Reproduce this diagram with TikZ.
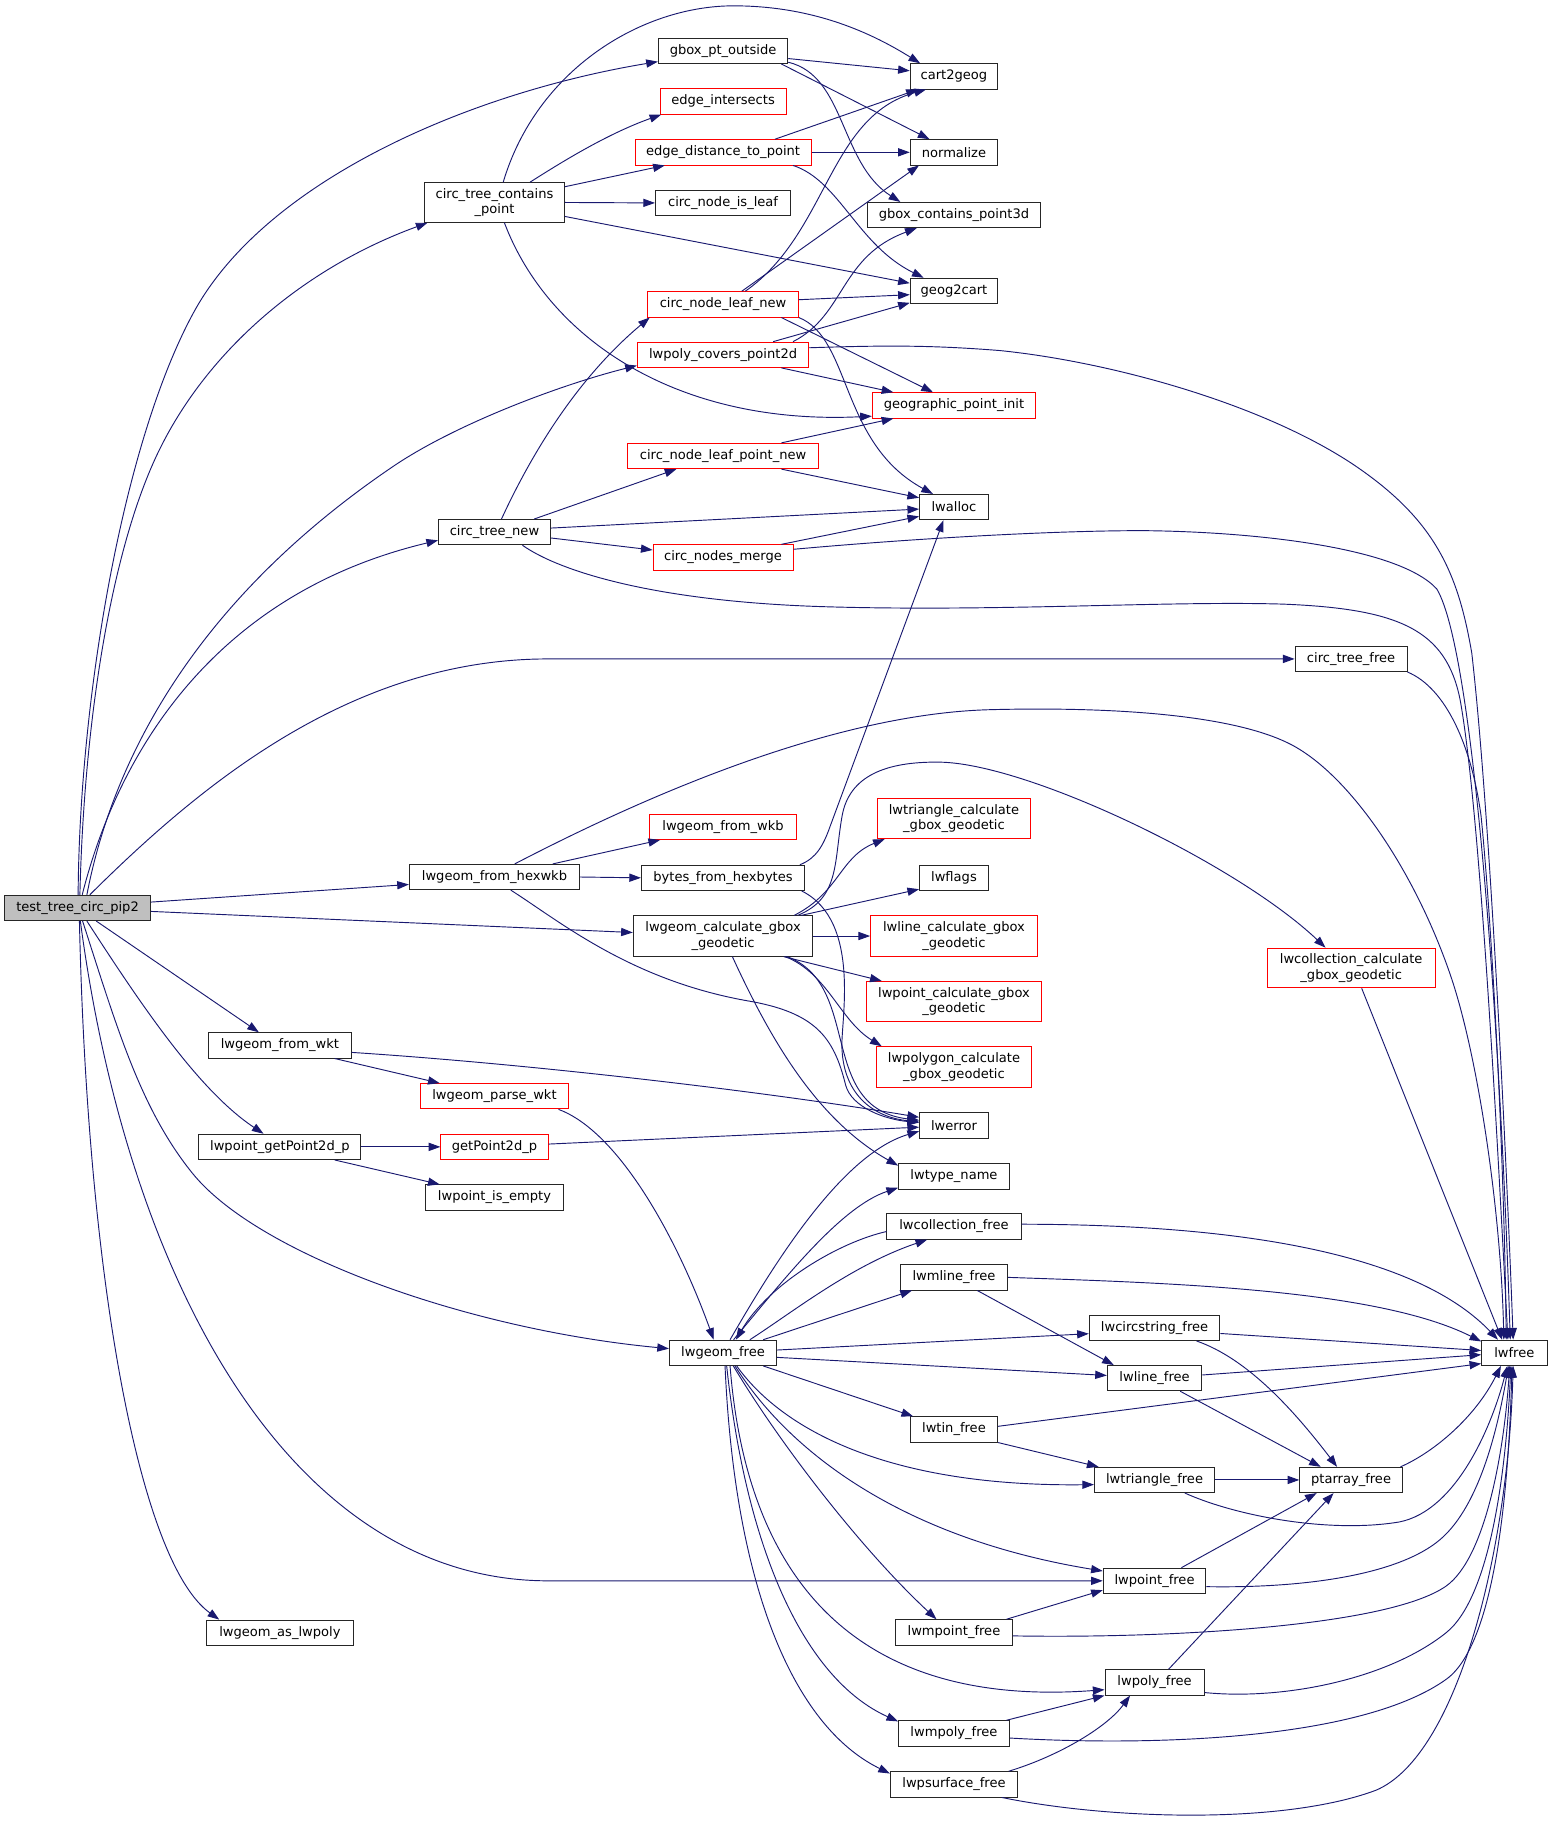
\documentclass[tikz,border=0pt]{standalone}
\usepackage{fontspec}
\setmainfont{DejaVu Sans}
\usetikzlibrary{arrows.meta}
\definecolor{edgec}{HTML}{191970}
\definecolor{gfill}{HTML}{BFBFBF}
\newcommand\dgfnt{\fontsize{11.2pt}{13.5pt}\selectfont}
\tikzset{
  box/.style={draw=black!85, line width=0.8pt, fill=white, inner sep=0pt,
    minimum height=21.7pt, font=\dgfnt, align=center, text=black},
  redbox/.style={box, draw=red},
  e/.style={draw=edgec, line width=0.8pt, -{Triangle[length=10pt,width=7pt]}},
}
\begin{document}
\begin{tikzpicture}[x=1pt,y=-1pt]
\fill[white] (0,0) rectangle (1330,1566.6);
\useasboundingbox (0,0) rectangle (1330,1566.6);

% ---------- nodes ----------
\node[box,fill=gfill,minimum width=125pt] (T) at (66.5,778.5) {test\_tree\_circ\_pip2};
\node[box,minimum width=120pt,minimum height=34pt] (CTCP) at (424,173.6) {circ\_tree\_contains\\\_point};
\node[box,minimum width=96pt] (CTN) at (424,456.3) {circ\_tree\_new};
\node[box,minimum width=146pt] (HEX) at (424,752) {lwgeom\_from\_hexwkb};
\node[box,minimum width=111pt] (GPO) at (620,43.6) {gbox\_pt\_outside};
\node[box,minimum width=75pt] (C2G) at (818,65.5) {cart2geog};
\node[redbox,minimum width=108pt] (EI) at (620,87) {edge\_intersects};
\node[redbox,minimum width=151pt] (EDP) at (620,130.6) {edge\_distance\_to\_point};
\node[box,minimum width=75pt] (NRM) at (818,130.6) {normalize};
\node[box,minimum width=116pt] (CNIL) at (620,174) {circ\_node\_is\_leaf};
\node[box,minimum width=148pt] (GCP) at (818,184.4) {gbox\_contains\_point3d};
\node[box,minimum width=75pt] (G2C) at (818,249.4) {geog2cart};
\node[redbox,minimum width=129pt] (CNLN) at (620,261) {circ\_node\_leaf\_new};
\node[redbox,minimum width=147pt] (LCP) at (620,304.2) {lwpoly\_covers\_point2d};
\node[redbox,minimum width=140pt] (GPI) at (818,347.6) {geographic\_point\_init};
\node[redbox,minimum width=164pt] (CNLPN) at (620,391) {circ\_node\_leaf\_point\_new};
\node[box,minimum width=59pt] (LWA) at (818,434.8) {lwalloc};
\node[redbox,minimum width=120pt] (CNM) at (620,478) {circ\_nodes\_merge};
\node[box,minimum width=96pt] (CTF) at (1158.5,565) {circ\_tree\_free};
\node[redbox,minimum width=126pt] (WKB) at (620,709) {lwgeom\_from\_wkb};
\node[box,minimum width=140pt] (BFH) at (620,752.7) {bytes\_from\_hexbytes};
\node[redbox,minimum width=132pt,minimum height=34.2pt] (TRI) at (818,702) {lwtriangle\_calculate\\\_gbox\_geodetic};
\node[box,minimum width=59pt] (FLG) at (818,752.7) {lwflags};
\node[box,minimum width=154pt,minimum height=34.6pt] (LCGG) at (620,802.6) {lwgeom\_calculate\_gbox\\\_geodetic};
\node[redbox,minimum width=143pt,minimum height=34.6pt] (LINC) at (818,802.6) {lwline\_calculate\_gbox\\\_geodetic};
\node[redbox,minimum width=144pt,minimum height=34pt] (COLC) at (1158.6,830) {lwcollection\_calculate\\\_gbox\_geodetic};
\node[redbox,minimum width=150pt,minimum height=34.6pt] (PTC) at (818,858.8) {lwpoint\_calculate\_gbox\\\_geodetic};
\node[box,minimum width=122.4pt] (WKT) at (240,896.4) {lwgeom\_from\_wkt};
\node[redbox,minimum width=133pt,minimum height=34.6pt] (POLC) at (818,914.8) {lwpolygon\_calculate\\\_gbox\_geodetic};
\node[redbox,minimum width=127pt] (PWKT) at (424,940) {lwgeom\_parse\_wkt};
\node[box,minimum width=59pt] (ERR) at (818,965) {lwerror};
\node[box,minimum width=139pt] (GP2) at (240,983.4) {lwpoint\_getPoint2d\_p};
\node[redbox,minimum width=92pt] (G2P) at (424,983.4) {getPoint2d\_p};
\node[box,minimum width=95pt] (TYN) at (818,1008.7) {lwtype\_name};
\node[box,minimum width=118pt] (PIE) at (424,1026.8) {lwpoint\_is\_empty};
\node[box,minimum width=115pt] (COLF) at (818,1051.7) {lwcollection\_free};
\node[box,minimum width=92pt] (MLF) at (818,1095.3) {lwmline\_free};
\node[box,minimum width=112pt] (CSF) at (990,1138.6) {lwcircstring\_free};
\node[box,minimum width=92pt] (LGF) at (620,1160) {lwgeom\_free};
\node[box,minimum width=56pt] (FREE) at (1298.5,1160) {lwfree};
\node[box,minimum width=81pt] (LF) at (990,1181.7) {lwline\_free};
\node[box,minimum width=75pt] (TINF) at (818,1225.7) {lwtin\_free};
\node[box,minimum width=103pt] (TRF) at (990,1269) {lwtriangle\_free};
\node[box,minimum width=88pt] (PAF) at (1158.5,1269) {ptarray\_free};
\node[box,minimum width=88pt] (PTF) at (990,1355.5) {lwpoint\_free};
\node[box,minimum width=126pt] (ASP) at (240,1400) {lwgeom\_as\_lwpoly};
\node[box,minimum width=100pt] (MPTF) at (818,1399.7) {lwmpoint\_free};
\node[box,minimum width=85pt] (PLF) at (990,1442.6) {lwpoly\_free};
\node[box,minimum width=95pt] (MPLF) at (818,1486.3) {lwmpoly\_free};
\node[box,minimum width=109pt] (PSF) at (818,1530) {lwpsurface\_free};

% ---------- edges: test_tree_circ_pip2 ----------
\draw[e] ([xshift=0.5pt]T.north) .. controls (68,600) and (105,380) .. (166,268) .. controls (227,156) and (400,80) .. ([yshift=2pt]GPO.south west);
\draw[e] ([xshift=2pt]T.north) .. controls (72,620) and (95,470) .. (137,385) .. controls (179,300) and (260,230) .. ([xshift=3pt]CTCP.south west);
\draw[e] ([xshift=8pt]T.north) .. controls (95,660) and (160,520) .. (337,400) .. controls (390,364) and (480,330) .. ([yshift=2pt]LCP.south west);
\draw[e] ([xshift=4pt]T.north) .. controls (100,650) and (180,510) .. ([yshift=-7pt]CTN.west);
\draw[e] ([xshift=10.5pt]T.north) .. controls (170,675) and (300,565) .. (470,565) -- (CTF.west);
\draw[e] ([yshift=5pt]T.east) -- ([yshift=-6.4pt]HEX.west);
\draw[e] ([yshift=-3pt]T.east) -- ([yshift=3pt]LCGG.west);
\draw[e] ([xshift=16pt]T.south) -- ([xshift=-18pt]WKT.north);
\draw[e] ([xshift=8pt]T.south) .. controls (120,860) and (170,935) .. ([xshift=-14pt]GP2.north);
\draw[e] ([xshift=4.3pt]T.south) .. controls (100,880) and (120,950) .. (164.6,1005.5) .. controls (220,1075) and (400,1140) .. ([yshift=3.6pt]LGF.west);
\draw[e] ([xshift=2.4pt]T.south) .. controls (110,1100) and (250,1355.5) .. (470,1355.5) -- (PTF.west);
\draw[e] ([xshift=1.6pt]T.south) .. controls (75,1100) and (120,1340) .. ([xshift=-52pt]ASP.north);

% ---------- circ_tree_contains_point ----------
\draw[e] ([xshift=7.5pt]CTCP.north) .. controls (460,60) and (550,5) .. (629,5) .. controls (700,5) and (750,30) .. ([xshift=-29pt]C2G.north);
\draw[e] ([xshift=30.5pt]CTCP.north) .. controls (480,140) and (520,115) .. ([xshift=-53pt]EI.south);
\draw[e] ([yshift=13.5pt]CTCP.east) -- ([xshift=-50pt]EDP.south);
\draw[e] (CTCP.east) -- (CNIL.west);
\draw[e] ([yshift=-12pt]CTCP.east) -- ([yshift=6.6pt]G2C.west);
\draw[e] ([xshift=8.5pt]CTCP.south) .. controls (470,290) and (580,365) .. ([yshift=2pt]GPI.south west);

% ---------- gbox_pt_outside ----------
\draw[e] ([yshift=-6.6pt]GPO.east) -- ([yshift=4.8pt]C2G.west);
\draw[e] ([xshift=50pt]GPO.south) -- ([xshift=-21pt]NRM.north);
\draw[e] ([yshift=1.5pt]GPO.south east) .. controls (725,65) and (720,140) .. ([xshift=-46pt]GCP.north);

% ---------- edge_distance_to_point ----------
\draw[e] ([xshift=44.5pt]EDP.north) -- ([xshift=-31pt]C2G.south);
\draw[e] (EDP.east) -- (NRM.west);
\draw[e] ([xshift=60pt]EDP.south) .. controls (720,155) and (735,210) .. ([xshift=-26pt]G2C.north);

% ---------- circ_node_leaf_new ----------
\draw[e] ([xshift=19pt]CNLN.north) .. controls (710,200) and (710,100) .. ([xshift=-24pt]C2G.south);
\draw[e] ([xshift=16pt]CNLN.north) -- ([xshift=-30pt]NRM.south);
\draw[e] ([yshift=4pt]CNLN.east) -- ([yshift=-3.3pt]G2C.west);
\draw[e] ([xshift=50pt]CNLN.south) -- ([xshift=-18pt]GPI.north);
\draw[e] (CNLN.south east) .. controls (730,290) and (720,380) .. ([xshift=-18pt]LWA.north);

% ---------- lwpoly_covers_point2d ----------
\draw[e] ([xshift=60pt]LCP.north) .. controls (725,270) and (720,220) .. ([xshift=-32pt]GCP.south);
\draw[e] ([xshift=43pt]LCP.north) -- ([yshift=1pt]G2C.south west);
\draw[e] ([xshift=50pt]LCP.south) -- ([xshift=-52pt]GPI.north);
\draw[e] ([yshift=6pt]LCP.east) .. controls (760,296) and (800,296) .. (857.5,300.6) .. controls (950,310) and (1080,345) .. (1160,398) .. controls (1230,445) and (1250,490) .. (1262,560) .. controls (1278,700) and (1292,1000) .. ([xshift=-1pt]FREE.north);

% ---------- circ_node_leaf_point_new ----------
\draw[e] ([xshift=50pt]CNLPN.north) -- ([xshift=-52pt]GPI.south);
\draw[e] ([xshift=50pt]CNLPN.south) -- ([yshift=8pt]LWA.west);

% ---------- circ_tree_new ----------
\draw[e] ([xshift=6pt]CTN.north) .. controls (460,380) and (500,320) .. ([xshift=2pt]CNLN.south west);
\draw[e] ([xshift=34pt]CTN.north) -- ([xshift=-40pt]CNLPN.south);
\draw[e] ([yshift=3.5pt]CTN.east) -- ([yshift=-1.7pt]LWA.west);
\draw[e] ([yshift=-5pt]CTN.east) -- ([yshift=6.4pt]CNM.west);
\draw[e] ([xshift=24pt]CTN.south) .. controls (480,490) and (560,515) .. (700,520) .. controls (850,525) and (1000,515) .. (1100,518) .. controls (1200,522) and (1240,540) .. (1252,600) .. controls (1270,700) and (1285,1000) .. ([xshift=-5.5pt]FREE.north);

% ---------- circ_nodes_merge ----------
\draw[e] ([xshift=50pt]CNM.north) -- ([yshift=-8pt]LWA.west);
\draw[e] ([yshift=7pt]CNM.east) .. controls (780,462) and (900,455) .. (980,455) .. controls (1080,456) and (1200,470) .. (1232,505) .. controls (1265,560) and (1287,900) .. ([xshift=-3.5pt]FREE.north);

% ---------- circ_tree_free ----------
\draw[e] (CTF.south east) .. controls (1240,590) and (1262,640) .. (1270,700) .. controls (1280,800) and (1290,1000) .. ([xshift=-7pt]FREE.north);

% ---------- lwgeom_from_hexwkb ----------
\draw[e] ([xshift=17.4pt]HEX.north) .. controls (520,700) and (700,612) .. (850,608.5) .. controls (950,606) and (1060,612) .. (1110,640) .. controls (1160,668) and (1215,750) .. (1245,840) .. controls (1268,910) and (1287,1040) .. ([xshift=-9pt]FREE.north);
\draw[e] ([xshift=50pt]HEX.north) -- ([xshift=-54pt]WKB.south);
\draw[e] (HEX.east) -- (BFH.west);
\draw[e] ([xshift=14pt]HEX.south) .. controls (480,790) and (540,840) .. (640,858) .. controls (700,868) and (715,890) .. (725,930) .. controls (730,950) and (760,960) .. ([yshift=2.5pt]ERR.west);

% ---------- bytes_from_hexbytes ----------
\draw[e] ([xshift=-4.5pt]BFH.north east) .. controls (700,736) and (706,725) .. (712,708) -- ([xshift=-9pt]LWA.south);
\draw[e] ([xshift=-3pt]BFH.south east) .. controls (740,790) and (720,880) .. (722,900) .. controls (724,940) and (750,958) .. ([yshift=3pt]ERR.west);

% ---------- lwgeom_calculate_gbox_geodetic ----------
\draw[e] ([xshift=61pt]LCGG.north) .. controls (720,765) and (720,735) .. ([xshift=7pt]TRI.south west);
\draw[e] ([xshift=67pt]LCGG.north) -- ([yshift=1.5pt]FLG.south west);
\draw[e] (LCGG.east) -- (LINC.west);
\draw[e] ([xshift=64pt]LCGG.north) .. controls (720,770) and (715,740) .. (722,700) .. controls (728,665) and (760,653) .. (805,653.5) .. controls (880,654) and (1060,740) .. ([xshift=-22pt]COLC.north);
\draw[e] ([xshift=52pt]LCGG.south) -- ([xshift=-62pt]PTC.north);
\draw[e] ([xshift=53.5pt]LCGG.south) .. controls (710,835) and (720,875) .. ([xshift=-62pt]POLC.north);
\draw[e] ([xshift=55pt]LCGG.south) .. controls (740,845) and (700,950) .. ([yshift=4.4pt]ERR.west);
\draw[e] ([xshift=8pt]LCGG.south) .. controls (660,890) and (700,960) .. ([yshift=-2pt]TYN.north west);

% ---------- lwcollection_calculate_gbox_geodetic ----------
\draw[e] ([xshift=9pt]COLC.south) -- ([xshift=-10.5pt]FREE.north);

% ---------- lwgeom_from_wkt / lwpoint_getPoint2d_p ----------
\draw[e] ([xshift=47pt]WKT.south) -- ([xshift=-47pt]PWKT.north);
\draw[e] ([yshift=-6pt]WKT.east) .. controls (450,912) and (650,935) .. ([yshift=7pt]ERR.west);
\draw[e] (GP2.east) -- (G2P.west);
\draw[e] ([xshift=47pt]GP2.south) -- ([xshift=-47pt]PIE.north);
\draw[e] ([yshift=2.4pt]G2P.east) -- ([yshift=-1.5pt]ERR.west);
\draw[e] ([xshift=-9pt]PWKT.south east) .. controls (530,970) and (580,1060) .. ([xshift=-8pt]LGF.north);

% ---------- lwgeom_free ----------
\draw[e] ([xshift=6pt]LGF.north) .. controls (660,1090) and (720,990) .. ([yshift=-5pt]ERR.west);
\draw[e] ([xshift=9pt]LGF.north) .. controls (670,1100) and (720,1035) .. ([yshift=1.5pt]TYN.south west);
\draw[e] ([xshift=23pt]LGF.north) .. controls (680,1125) and (730,1085) .. ([xshift=-23pt]COLF.south);
\draw[e] ([yshift=-4.3pt]COLF.west) .. controls (720,1065) and (660,1100) .. ([xshift=11pt]LGF.north);
\draw[e] ([xshift=34.5pt]LGF.north) -- ([xshift=-36pt]MLF.south);
\draw[e] ([yshift=2.4pt]LGF.east) -- ([yshift=-5pt]CSF.west);
\draw[e] ([yshift=-3.9pt]LGF.east) -- ([yshift=2.3pt]LF.west);
\draw[e] ([xshift=34.5pt]LGF.south) -- ([xshift=-35pt]TINF.north);
\draw[e] ([xshift=11.7pt]LGF.south) .. controls (670,1225) and (760,1275) .. ([yshift=-4pt]TRF.west);
\draw[e] ([xshift=10.2pt]LGF.south) .. controls (680,1250) and (780,1320) .. ([yshift=8.4pt]PTF.west);
\draw[e] ([xshift=8.8pt]LGF.south) .. controls (670,1240) and (740,1330) .. ([xshift=-15pt]MPTF.north);
\draw[e] ([xshift=6pt]LGF.south) .. controls (640,1350) and (730,1465) .. ([yshift=5pt]PLF.south west);
\draw[e] ([xshift=3.1pt]LGF.south) .. controls (640,1330) and (690,1440) .. ([yshift=-1pt]MPLF.north west);
\draw[e] ([xshift=1.7pt]LGF.south) .. controls (630,1360) and (680,1480) .. ([yshift=-2pt]PSF.north west);

% ---------- free functions ----------
\draw[e] ([yshift=2pt]COLF.east) .. controls (1000,1050) and (1200,1060) .. ([xshift=-14pt]FREE.north);
\draw[e] (MLF.east) .. controls (1000,1100) and (1180,1105) .. ([yshift=-1.5pt]FREE.north west);
\draw[e] ([xshift=20pt]MLF.south) -- ([xshift=-35pt]LF.north);
\draw[e] ([yshift=-4.8pt]CSF.east) -- ([yshift=2pt]FREE.west);
\draw[e] ([xshift=36pt]CSF.south) .. controls (1070,1165) and (1110,1210) .. ([xshift=-12pt]PAF.north);
\draw[e] ([yshift=2.7pt]LF.east) -- ([yshift=-1.6pt]FREE.west);
\draw[e] ([xshift=22pt]LF.south) -- ([xshift=-26pt]PAF.north);
\draw[e] ([yshift=2.7pt]TINF.east) -- ([yshift=2pt]FREE.south west);
\draw[e] (TINF.south east) -- ([xshift=-48pt]TRF.north);
\draw[e] (TRF.east) -- (PAF.west);
\draw[e] ([xshift=26pt]TRF.south) .. controls (1060,1300) and (1140,1315) .. (1200,1305) .. controls (1250,1295) and (1280,1220) .. ([xshift=-6pt]FREE.south);
\draw[e] ([xshift=-2pt]PAF.north east) .. controls (1230,1245) and (1265,1215) .. ([xshift=-11.5pt]FREE.south);
\draw[e] ([xshift=23pt]PTF.north) -- ([xshift=-29.5pt]PAF.south);
\draw[e] ([yshift=-5pt]PTF.east) .. controls (1120,1362) and (1200,1350) .. (1235,1320) .. controls (1270,1290) and (1285,1220) .. ([xshift=-5pt]FREE.south);
\draw[e] ([xshift=45pt]MPTF.north) -- ([yshift=-8pt]PTF.west);
\draw[e] ([yshift=-3pt]MPTF.east) .. controls (1000,1405) and (1190,1395) .. (1240,1360) .. controls (1275,1335) and (1290,1240) .. ([xshift=-4pt]FREE.south);
\draw[e] ([xshift=12pt]PLF.north) -- ([xshift=-15pt]PAF.south);
\draw[e] ([yshift=-8.7pt]PLF.east) .. controls (1100,1458) and (1190,1440) .. (1240,1400) .. controls (1280,1368) and (1292,1250) .. ([xshift=-3pt]FREE.south);
\draw[e] ([xshift=45pt]MPLF.north) -- (PLF.south west);
\draw[e] ([yshift=-4pt]MPLF.east) .. controls (1000,1498) and (1170,1490) .. (1240,1440) .. controls (1285,1408) and (1294,1260) .. ([xshift=-2pt]FREE.south);
\draw[e] ([xshift=47pt]PSF.north) .. controls (910,1505) and (950,1480) .. ([xshift=-21pt]PLF.south);
\draw[e] ([xshift=41pt]PSF.south) .. controls (950,1560) and (1100,1565) .. (1180,1535) .. controls (1250,1505) and (1293,1330) .. ([xshift=-1pt]FREE.south);
\end{tikzpicture}
\end{document}
